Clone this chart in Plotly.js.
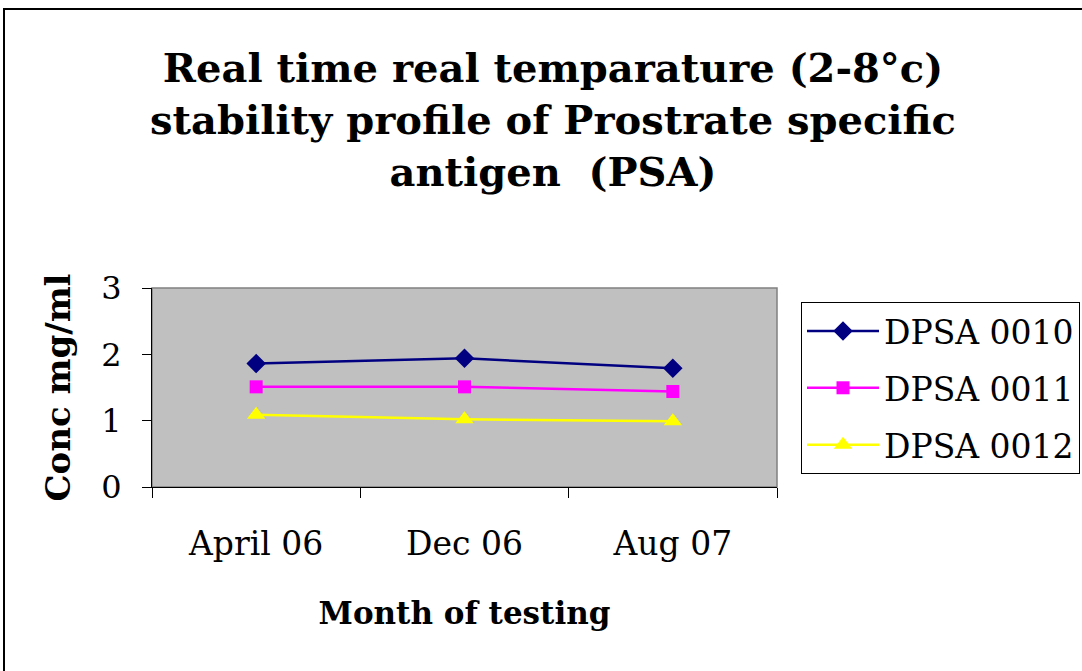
<!DOCTYPE html>
<html>
<head>
<meta charset="utf-8">
<script src="https://cdn.plot.ly/plotly-3.0.1.min.js"></script>
<style>
  html, body { margin: 0; padding: 0; background: #ffffff; }
  #wrap { position: relative; width: 1082px; height: 671px; overflow: hidden; }
  #chart { position: absolute; left: 0; top: 0; width: 1110px; height: 671px; }
  #frame { position: absolute; left: 3px; top: 8px; width: 1100px; height: 700px;
           border-left: 2px solid #000; border-top: 2px solid #000; pointer-events: none; }
</style>
</head>
<body>
<div id="wrap">
  <div id="chart"></div>
  <div id="frame"></div>
</div>
<script>
const categories = ["April 06", "Dec 06", "Aug 07"];
const seriesNames = ["DPSA 0010", "DPSA 0011", "DPSA 0012"];
const dpsa0010 = [1.86, 1.94, 1.79];
const dpsa0011 = [1.51, 1.51, 1.44];
const dpsa0012 = [1.09, 1.02, 0.99];
const yTicks = [0, 1, 2, 3];

const serif = "DejaVu Serif, Liberation Serif, serif";

const traces = [
  { x: categories, y: dpsa0010, name: seriesNames[0], legendgroup: "a", type: "scatter", mode: "lines+markers",
    line: { color: "#000080", width: 2.5 }, marker: { symbol: "diamond", size: 15, color: "#000080" } },
  { x: categories, y: dpsa0011, name: seriesNames[1], legendgroup: "b", type: "scatter", mode: "lines+markers",
    line: { color: "#FF00FF", width: 2.5 }, marker: { symbol: "square", size: 13, color: "#FF00FF" } },
  { x: categories, y: dpsa0012, name: seriesNames[2], legendgroup: "c", type: "scatter", mode: "lines+markers",
    line: { color: "#FFFF00", width: 2.5 }, marker: { symbol: "triangle-up", size: 16, color: "#FFFF00" } }
];

const W = 1110;
const layout = {
  width: W, height: 671,
  paper_bgcolor: "#ffffff",
  plot_bgcolor: "#C0C0C0",
  margin: { l: 152, r: W - 777, t: 288, b: 184, pad: 0 },
  title: {
    text: "<b>Real time real temparature (2-8°c)<br>stability profile of Prostrate specific<br>antigen  (PSA)</b>",
    font: { family: serif, size: 40, color: "#000" },
    x: 553 / W, xanchor: "center", y: 0.878, yanchor: "top", xref: "container", yref: "container"
  },
  showlegend: true,
  legend: {
    x: 1.0384, xanchor: "left", y: 0.93, yanchor: "top",
    bordercolor: "#000", borderwidth: 1, bgcolor: "#ffffff",
    font: { family: serif, size: 33, color: "#000" },
    traceorder: "grouped", tracegroupgap: 11, itemwidth: 72
  },
  xaxis: {
    type: "category", range: [-0.5, 2.5],
    tickson: "boundaries", ticks: "outside", ticklen: 10, tickcolor: "#000", tickwidth: 1,
    showline: true, linecolor: "#000", linewidth: 1, showgrid: false, zeroline: false,
    tickfont: { family: serif, size: 33, color: "#000" }, ticklabelstandoff: 27,
    title: { text: "<b>Month of testing</b>", font: { family: serif, size: 31, color: "#000" }, standoff: 40 },
    automargin: false, fixedrange: true
  },
  yaxis: {
    range: [0, 3], tickvals: yTicks, ticktext: yTicks.map(String),
    ticks: "outside", ticklen: 9, tickcolor: "#000", tickwidth: 1,
    showline: true, linecolor: "#000", linewidth: 1, showgrid: false, zeroline: false,
    tickfont: { family: serif, size: 32, color: "#000" }, ticklabelstandoff: 14,
    title: { text: "<b>Conc mg/ml</b>", font: { family: serif, size: 34, color: "#000" }, standoff: 20 },
    automargin: false, fixedrange: true
  },
  shapes: [
    { type: "rect", xref: "paper", yref: "paper", x0: 0, x1: 1, y0: 0, y1: 1,
      line: { color: "#808080", width: 1.5 }, layer: "below" }
  ]
};

Plotly.newPlot("chart", traces, layout, { displayModeBar: false, staticPlot: true });
</script>
</body>
</html>
